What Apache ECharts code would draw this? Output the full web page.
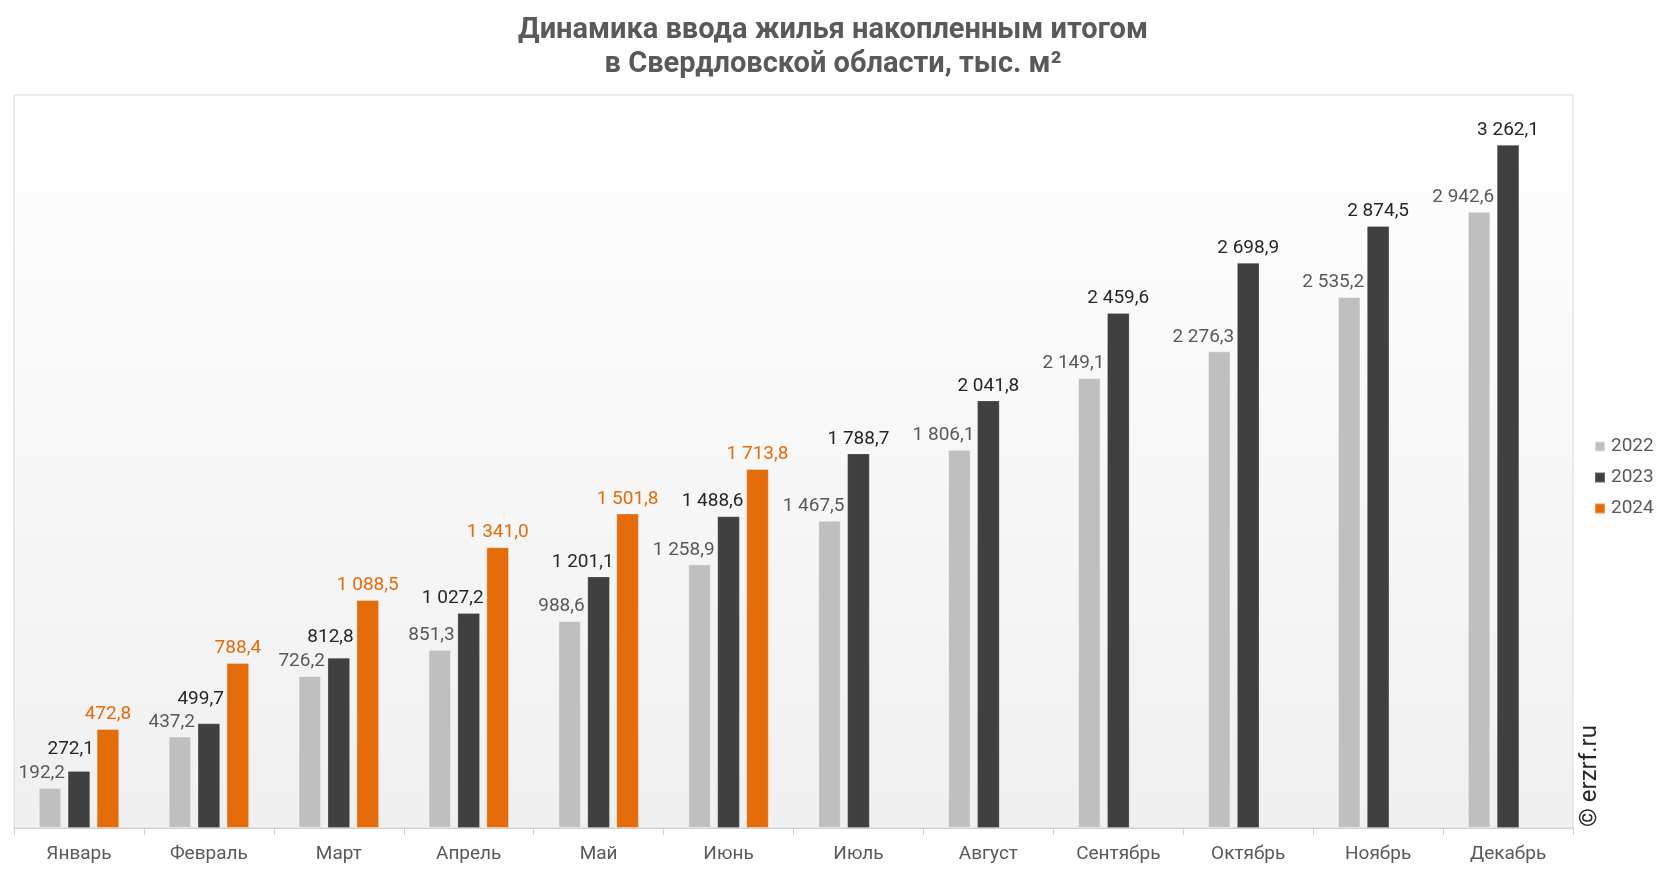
<!DOCTYPE html>
<html>
<head>
<meta charset="utf-8">
<script src="https://cdn.jsdelivr.net/npm/echarts@6/dist/echarts.min.js"></script>
<style>
html,body{margin:0;padding:0;background:#fff;}
#chart{width:1666px;height:872px;}
</style>
</head>
<body>
<div id="chart"></div>
<script>
const categories = ['Январь','Февраль','Март','Апрель','Май','Июнь','Июль','Август','Сентябрь','Октябрь','Ноябрь','Декабрь'];
const seriesNames = ['2022','2023','2024'];
const values2022 = [192.2, 437.2, 726.2, 851.3, 988.6, 1258.9, 1467.5, 1806.1, 2149.1, 2276.3, 2535.2, 2942.6];
const values2023 = [272.1, 499.7, 812.8, 1027.2, 1201.1, 1488.6, 1788.7, 2041.8, 2459.6, 2698.9, 2874.5, 3262.1];
const values2024 = [472.8, 788.4, 1088.5, 1341.0, 1501.8, 1713.8, null, null, null, null, null, null];

// label layout tweaks (style only)
const shift2023 = [-7, -10, -6, 0, 0, 0, 0, 0, 0, 0, 0, 0];

function fmt(v) {
  const s = v.toFixed(1).split('.');
  const intPart = s[0].replace(/\B(?=(\d{3})+(?!\d))/g, ' ');
  return intPart + ',' + s[1];
}

const FONT = 'Roboto';
const chart = echarts.init(document.getElementById('chart'));

const has2024 = values2024.map(v => v != null);

const option = {
  animation: false,
  backgroundColor: '#ffffff',
  title: {
    text: 'Динамика ввода жилья накопленным итогом\nв Свердловской области, тыс. м²',
    left: 'center',
    top: 9,
    textStyle: {
      fontFamily: FONT,
      fontWeight: 'bold',
      fontSize: 29,
      lineHeight: 34,
      color: '#595959'
    }
  },
  legend: {
    orient: 'vertical',
    left: 1589,
    top: 432,
    itemWidth: 10,
    itemHeight: 10,
    itemGap: 12,
    icon: 'rect',
    data: seriesNames,
    textStyle: { fontFamily: FONT, fontSize: 19, color: '#595959', padding: [0, 0, 0, 1] }
  },
  grid: {
    left: 14, right: 93, top: 95, bottom: 44,
    show: true,
    borderColor: '#d9d9d9',
    borderWidth: 1,
    backgroundColor: {
      type: 'linear', x: 0, y: 0, x2: 0, y2: 1,
      colorStops: [{ offset: 0, color: '#ffffff' }, { offset: 1, color: '#f0f0f0' }]
    }
  },
  xAxis: {
    type: 'category',
    data: categories,
    axisLine: { lineStyle: { color: '#d0d0d0', width: 1 } },
    axisTick: { show: true, length: 7, lineStyle: { color: '#d0d0d0' } },
    axisLabel: { fontFamily: FONT, fontSize: 19, color: '#595959', margin: 17 }
  },
  yAxis: {
    type: 'value', min: 0, max: 3500, show: false,
    splitLine: { show: false }
  },
  graphic: [{
    type: 'text',
    x: 1590,
    y: 776,
    rotation: Math.PI / 2,
    style: {
      text: '© erzrf.ru',
      font: '24px Roboto',
      fill: '#262626',
      textAlign: 'center',
      textVerticalAlign: 'middle'
    }
  }],
  series: [
    {
      name: '2022', type: 'bar', data: values2022,
      barGap: '28%', barCategoryGap: '38%',
      itemStyle: { color: '#bfbfbf', borderColor: 'rgba(255,255,255,0.45)', borderWidth: 1 },
      label: {
        show: true, position: 'top', align: 'right', offset: [15, 0],
        fontFamily: FONT, fontSize: 19, color: '#595959',
        formatter: p => fmt(p.value)
      }
    },
    {
      name: '2023', type: 'bar',
      data: values2023.map((v, i) => ({
        value: v,
        label: has2024[i] ? { align: 'right', offset: [15, shift2023[i]] } : { align: 'center', offset: [0, 0] }
      })),
      barGap: '28%', barCategoryGap: '38%',
      itemStyle: { color: '#404040', borderColor: 'rgba(255,255,255,0.2)', borderWidth: 1 },
      label: {
        show: true, position: 'top',
        fontFamily: FONT, fontSize: 19, color: '#262626',
        formatter: p => fmt(p.value)
      }
    },
    {
      name: '2024', type: 'bar', data: values2024,
      barGap: '28%', barCategoryGap: '38%',
      itemStyle: { color: '#e46c0a', borderColor: 'rgba(255,255,255,0.3)', borderWidth: 1 },
      label: {
        show: true, position: 'top',
        fontFamily: FONT, fontSize: 19, color: '#e46c0a',
        formatter: p => (p.value == null ? '' : fmt(p.value))
      }
    }
  ],
  color: ['#bfbfbf', '#404040', '#e46c0a']
};

chart.setOption(option);
</script>
</body>
</html>
